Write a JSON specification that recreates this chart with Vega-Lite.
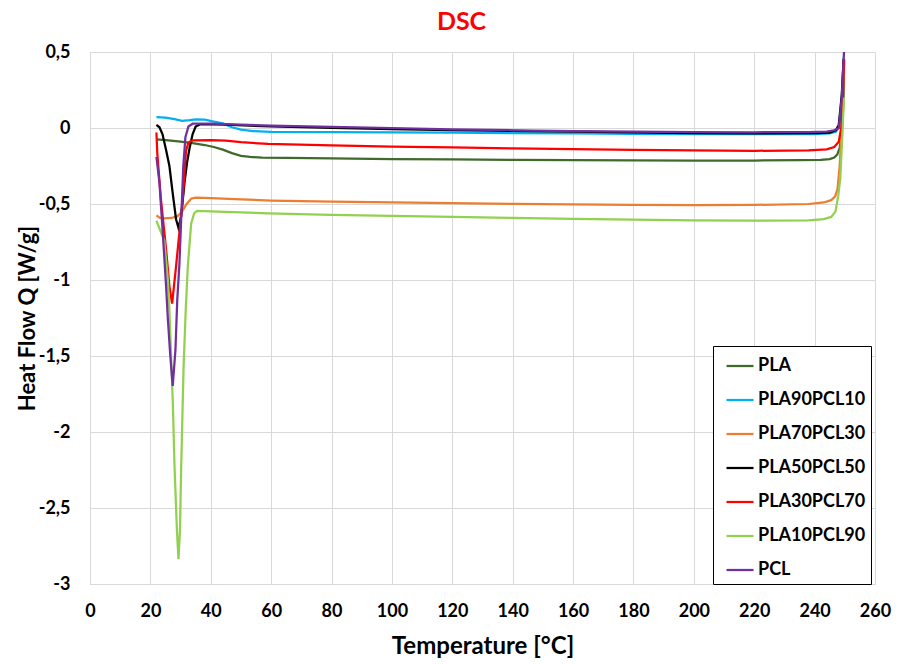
{
  "$schema": "https://vega.github.io/schema/vega-lite/v6.json",
  "width": 785,
  "height": 532,
  "autosize": {"type": "none"},
  "padding": {"left": 90, "top": 52, "right": 29, "bottom": 80},
  "background": "white",
  "title": {"text": "DSC", "color": "#FF0000", "font": "Lato", "fontWeight": "bold", "fontSize": 25, "anchor": "middle", "dx": -21, "offset": 8},
  "config": {
    "view": {"stroke": "#D9D9D9", "strokeWidth": 1},
    "axis": {"labelFont": "Lato", "labelFontWeight": "bold", "labelFontSize": 18, "labelColor": "#000000", "titleFont": "Lato", "titleFontWeight": "bold", "titleColor": "#000000", "gridColor": "#D9D9D9", "gridWidth": 1, "domainColor": "#D9D9D9", "ticks": false}
  },
  "data": {"values": [
    {"s":"PLA","T":22,"Q":-0.075},{"s":"PLA","T":26,"Q":-0.082},{"s":"PLA","T":30,"Q":-0.09},{"s":"PLA","T":34,"Q":-0.1},{"s":"PLA","T":38,"Q":-0.112},{"s":"PLA","T":41,"Q":-0.125},{"s":"PLA","T":44,"Q":-0.142},{"s":"PLA","T":47,"Q":-0.165},{"s":"PLA","T":50,"Q":-0.183},{"s":"PLA","T":53,"Q":-0.19},{"s":"PLA","T":57,"Q":-0.195},{"s":"PLA","T":65,"Q":-0.197},{"s":"PLA","T":80,"Q":-0.2},{"s":"PLA","T":100,"Q":-0.205},{"s":"PLA","T":120,"Q":-0.207},{"s":"PLA","T":140,"Q":-0.21},{"s":"PLA","T":160,"Q":-0.212},{"s":"PLA","T":180,"Q":-0.213},{"s":"PLA","T":200,"Q":-0.215},{"s":"PLA","T":220,"Q":-0.214},{"s":"PLA","T":235,"Q":-0.212},{"s":"PLA","T":242,"Q":-0.21},{"s":"PLA","T":245,"Q":-0.205},{"s":"PLA","T":246.5,"Q":-0.195},{"s":"PLA","T":247.5,"Q":-0.175},{"s":"PLA","T":248.3,"Q":-0.13},{"s":"PLA","T":249,"Q":-0.03},{"s":"PLA","T":249.5,"Q":0.15},{"s":"PLA","T":249.8,"Q":0.45},

    {"s":"PLA90PCL10","T":22,"Q":0.072},{"s":"PLA90PCL10","T":25,"Q":0.068},{"s":"PLA90PCL10","T":28,"Q":0.058},{"s":"PLA90PCL10","T":30.5,"Q":0.047},{"s":"PLA90PCL10","T":33,"Q":0.052},{"s":"PLA90PCL10","T":35,"Q":0.057},{"s":"PLA90PCL10","T":38,"Q":0.055},{"s":"PLA90PCL10","T":41,"Q":0.042},{"s":"PLA90PCL10","T":44,"Q":0.03},{"s":"PLA90PCL10","T":47,"Q":0.005},{"s":"PLA90PCL10","T":50,"Q":-0.01},{"s":"PLA90PCL10","T":54,"Q":-0.02},{"s":"PLA90PCL10","T":60,"Q":-0.025},{"s":"PLA90PCL10","T":80,"Q":-0.027},{"s":"PLA90PCL10","T":100,"Q":-0.029},{"s":"PLA90PCL10","T":120,"Q":-0.031},{"s":"PLA90PCL10","T":140,"Q":-0.034},{"s":"PLA90PCL10","T":160,"Q":-0.036},{"s":"PLA90PCL10","T":180,"Q":-0.038},{"s":"PLA90PCL10","T":200,"Q":-0.04},{"s":"PLA90PCL10","T":220,"Q":-0.041},{"s":"PLA90PCL10","T":240,"Q":-0.04},{"s":"PLA90PCL10","T":245,"Q":-0.035},{"s":"PLA90PCL10","T":247,"Q":-0.025},{"s":"PLA90PCL10","T":248,"Q":0},{"s":"PLA90PCL10","T":248.8,"Q":0.1},{"s":"PLA90PCL10","T":249.3,"Q":0.3},{"s":"PLA90PCL10","T":249.6,"Q":0.46},

    {"s":"PLA70PCL30","T":22,"Q":-0.575},{"s":"PLA70PCL30","T":23,"Q":-0.59},{"s":"PLA70PCL30","T":24.5,"Q":-0.595},{"s":"PLA70PCL30","T":27,"Q":-0.592},{"s":"PLA70PCL30","T":29,"Q":-0.58},{"s":"PLA70PCL30","T":30.5,"Q":-0.55},{"s":"PLA70PCL30","T":32,"Q":-0.5},{"s":"PLA70PCL30","T":33.5,"Q":-0.465},{"s":"PLA70PCL30","T":35,"Q":-0.458},{"s":"PLA70PCL30","T":40,"Q":-0.462},{"s":"PLA70PCL30","T":50,"Q":-0.47},{"s":"PLA70PCL30","T":60,"Q":-0.477},{"s":"PLA70PCL30","T":80,"Q":-0.485},{"s":"PLA70PCL30","T":100,"Q":-0.49},{"s":"PLA70PCL30","T":120,"Q":-0.495},{"s":"PLA70PCL30","T":140,"Q":-0.499},{"s":"PLA70PCL30","T":160,"Q":-0.502},{"s":"PLA70PCL30","T":180,"Q":-0.505},{"s":"PLA70PCL30","T":200,"Q":-0.507},{"s":"PLA70PCL30","T":220,"Q":-0.506},{"s":"PLA70PCL30","T":238,"Q":-0.5},{"s":"PLA70PCL30","T":243,"Q":-0.49},{"s":"PLA70PCL30","T":245.5,"Q":-0.475},{"s":"PLA70PCL30","T":246.8,"Q":-0.45},{"s":"PLA70PCL30","T":247.6,"Q":-0.4},{"s":"PLA70PCL30","T":248.3,"Q":-0.25},{"s":"PLA70PCL30","T":249,"Q":0},{"s":"PLA70PCL30","T":249.5,"Q":0.3},{"s":"PLA70PCL30","T":249.8,"Q":0.45},

    {"s":"PLA50PCL50","T":22,"Q":0.02},{"s":"PLA50PCL50","T":23,"Q":0.005},{"s":"PLA50PCL50","T":24,"Q":-0.04},{"s":"PLA50PCL50","T":25.2,"Q":-0.145},{"s":"PLA50PCL50","T":26.3,"Q":-0.25},{"s":"PLA50PCL50","T":27.4,"Q":-0.43},{"s":"PLA50PCL50","T":28.5,"Q":-0.6},{"s":"PLA50PCL50","T":29.3,"Q":-0.656},{"s":"PLA50PCL50","T":30.2,"Q":-0.58},{"s":"PLA50PCL50","T":31.3,"Q":-0.36},{"s":"PLA50PCL50","T":32.2,"Q":-0.22},{"s":"PLA50PCL50","T":33,"Q":-0.13},{"s":"PLA50PCL50","T":34,"Q":-0.04},{"s":"PLA50PCL50","T":35,"Q":0.01},{"s":"PLA50PCL50","T":36.5,"Q":0.025},{"s":"PLA50PCL50","T":45,"Q":0.022},{"s":"PLA50PCL50","T":60,"Q":0.01},{"s":"PLA50PCL50","T":80,"Q":0},{"s":"PLA50PCL50","T":100,"Q":-0.008},{"s":"PLA50PCL50","T":120,"Q":-0.014},{"s":"PLA50PCL50","T":140,"Q":-0.019},{"s":"PLA50PCL50","T":160,"Q":-0.024},{"s":"PLA50PCL50","T":180,"Q":-0.029},{"s":"PLA50PCL50","T":200,"Q":-0.033},{"s":"PLA50PCL50","T":220,"Q":-0.035},{"s":"PLA50PCL50","T":240,"Q":-0.034},{"s":"PLA50PCL50","T":245,"Q":-0.03},{"s":"PLA50PCL50","T":247,"Q":-0.015},{"s":"PLA50PCL50","T":248,"Q":0.02},{"s":"PLA50PCL50","T":249,"Q":0.22},{"s":"PLA50PCL50","T":249.6,"Q":0.45},

    {"s":"PLA30PCL70","T":22,"Q":-0.03},{"s":"PLA30PCL70","T":22.3,"Q":-0.17},{"s":"PLA30PCL70","T":23.5,"Q":-0.47},{"s":"PLA30PCL70","T":25.2,"Q":-0.8},{"s":"PLA30PCL70","T":26.3,"Q":-1.04},{"s":"PLA30PCL70","T":27.2,"Q":-1.155},{"s":"PLA30PCL70","T":28.5,"Q":-0.91},{"s":"PLA30PCL70","T":29.6,"Q":-0.69},{"s":"PLA30PCL70","T":30.7,"Q":-0.47},{"s":"PLA30PCL70","T":31.3,"Q":-0.3},{"s":"PLA30PCL70","T":31.8,"Q":-0.15},{"s":"PLA30PCL70","T":32.6,"Q":-0.095},{"s":"PLA30PCL70","T":34,"Q":-0.082},{"s":"PLA30PCL70","T":40,"Q":-0.08},{"s":"PLA30PCL70","T":45,"Q":-0.083},{"s":"PLA30PCL70","T":50,"Q":-0.093},{"s":"PLA30PCL70","T":59,"Q":-0.105},{"s":"PLA30PCL70","T":80,"Q":-0.115},{"s":"PLA30PCL70","T":100,"Q":-0.122},{"s":"PLA30PCL70","T":120,"Q":-0.128},{"s":"PLA30PCL70","T":140,"Q":-0.134},{"s":"PLA30PCL70","T":160,"Q":-0.139},{"s":"PLA30PCL70","T":180,"Q":-0.144},{"s":"PLA30PCL70","T":200,"Q":-0.148},{"s":"PLA30PCL70","T":220,"Q":-0.15},{"s":"PLA30PCL70","T":238,"Q":-0.148},{"s":"PLA30PCL70","T":244,"Q":-0.14},{"s":"PLA30PCL70","T":246.5,"Q":-0.125},{"s":"PLA30PCL70","T":248,"Q":-0.09},{"s":"PLA30PCL70","T":248.8,"Q":0},{"s":"PLA30PCL70","T":249.4,"Q":0.2},{"s":"PLA30PCL70","T":249.7,"Q":0.45},

    {"s":"PLA10PCL90","T":22,"Q":-0.61},{"s":"PLA10PCL90","T":23,"Q":-0.66},{"s":"PLA10PCL90","T":24.6,"Q":-0.74},{"s":"PLA10PCL90","T":25.8,"Q":-1.0},{"s":"PLA10PCL90","T":26.3,"Q":-1.2},{"s":"PLA10PCL90","T":27.4,"Q":-1.79},{"s":"PLA10PCL90","T":28,"Q":-2.23},{"s":"PLA10PCL90","T":28.8,"Q":-2.65},{"s":"PLA10PCL90","T":29.3,"Q":-2.836},{"s":"PLA10PCL90","T":29.8,"Q":-2.65},{"s":"PLA10PCL90","T":30.2,"Q":-2.23},{"s":"PLA10PCL90","T":31,"Q":-1.57},{"s":"PLA10PCL90","T":31.7,"Q":-1.2},{"s":"PLA10PCL90","T":32.4,"Q":-0.91},{"s":"PLA10PCL90","T":33.5,"Q":-0.63},{"s":"PLA10PCL90","T":34.5,"Q":-0.56},{"s":"PLA10PCL90","T":35.5,"Q":-0.545},{"s":"PLA10PCL90","T":40,"Q":-0.548},{"s":"PLA10PCL90","T":50,"Q":-0.555},{"s":"PLA10PCL90","T":59,"Q":-0.561},{"s":"PLA10PCL90","T":80,"Q":-0.572},{"s":"PLA10PCL90","T":100,"Q":-0.578},{"s":"PLA10PCL90","T":120,"Q":-0.585},{"s":"PLA10PCL90","T":140,"Q":-0.592},{"s":"PLA10PCL90","T":160,"Q":-0.598},{"s":"PLA10PCL90","T":180,"Q":-0.603},{"s":"PLA10PCL90","T":200,"Q":-0.608},{"s":"PLA10PCL90","T":220,"Q":-0.61},{"s":"PLA10PCL90","T":238,"Q":-0.608},{"s":"PLA10PCL90","T":243,"Q":-0.6},{"s":"PLA10PCL90","T":245.5,"Q":-0.585},{"s":"PLA10PCL90","T":246.9,"Q":-0.55},{"s":"PLA10PCL90","T":247.8,"Q":-0.45},{"s":"PLA10PCL90","T":248.5,"Q":-0.33},{"s":"PLA10PCL90","T":249.3,"Q":0},{"s":"PLA10PCL90","T":249.7,"Q":0.2},

    {"s":"PCL","T":22,"Q":-0.19},{"s":"PCL","T":23,"Q":-0.36},{"s":"PCL","T":24.1,"Q":-0.69},{"s":"PCL","T":25.2,"Q":-1.04},{"s":"PCL","T":25.8,"Q":-1.26},{"s":"PCL","T":26.6,"Q":-1.5},{"s":"PCL","T":27.4,"Q":-1.697},{"s":"PCL","T":28.3,"Q":-1.46},{"s":"PCL","T":28.9,"Q":-1.13},{"s":"PCL","T":29.6,"Q":-0.9},{"s":"PCL","T":30.3,"Q":-0.55},{"s":"PCL","T":30.9,"Q":-0.25},{"s":"PCL","T":31.6,"Q":-0.06},{"s":"PCL","T":32.6,"Q":0.01},{"s":"PCL","T":34,"Q":0.028},{"s":"PCL","T":40,"Q":0.028},{"s":"PCL","T":50,"Q":0.022},{"s":"PCL","T":60,"Q":0.015},{"s":"PCL","T":80,"Q":0.008},{"s":"PCL","T":100,"Q":0},{"s":"PCL","T":120,"Q":-0.009},{"s":"PCL","T":140,"Q":-0.015},{"s":"PCL","T":160,"Q":-0.02},{"s":"PCL","T":180,"Q":-0.024},{"s":"PCL","T":200,"Q":-0.027},{"s":"PCL","T":220,"Q":-0.028},{"s":"PCL","T":238,"Q":-0.027},{"s":"PCL","T":244,"Q":-0.024},{"s":"PCL","T":246.5,"Q":-0.015},{"s":"PCL","T":248,"Q":0},{"s":"PCL","T":249,"Q":0.2},{"s":"PCL","T":249.6,"Q":0.45},{"s":"PCL","T":250,"Q":0.6}
  ]},
  "mark": {"type": "line", "strokeWidth": 2.25, "clip": true, "interpolate": "linear"},
  "encoding": {
    "x": {"field": "T", "type": "quantitative", "scale": {"domain": [0, 260], "nice": false}, "axis": {"values": [0,20,40,60,80,100,120,140,160,180,200,220,240,260], "labelFlush": false, "labelPadding": 18, "title": "Temperature [°C]", "titleFontSize": 24, "titleY": 62, "titleBaseline": "middle"}},
    "y": {"field": "Q", "type": "quantitative", "scale": {"domain": [-3, 0.5], "nice": false}, "axis": {"values": [-3,-2.5,-2,-1.5,-1,-0.5,0,0.5], "labelPadding": 20, "labelExpr": "replace(toString(datum.value), '.', ',')", "title": "Heat Flow Q [W/g]", "titleFontSize": 22, "titleX": -63, "titleY": 266, "titleAngle": 270, "titleBaseline": "middle", "titleAlign": "center"}},
    "color": {"field": "s", "type": "nominal", "sort": null,
      "scale": {"domain": ["PLA","PLA90PCL10","PLA70PCL30","PLA50PCL50","PLA30PCL70","PLA10PCL90","PCL"], "range": ["#3F6A2C","#00B0F0","#ED7D31","#000000","#FF0000","#92D050","#7030A0"]},
      "legend": {"title": null, "orient": "none", "legendX": 623, "legendY": 294, "symbolType": "stroke", "symbolSize": 729, "symbolStrokeWidth": 2.25, "symbolOffset": 7, "labelFont": "Lato", "labelFontWeight": "bold", "labelFontSize": 18, "labelColor": "#000000", "labelOffset": 3, "rowPadding": 10, "padding": 5, "strokeColor": "#000000", "fillColor": "#FFFFFF", "labelLimit": 300}}
  }
}
